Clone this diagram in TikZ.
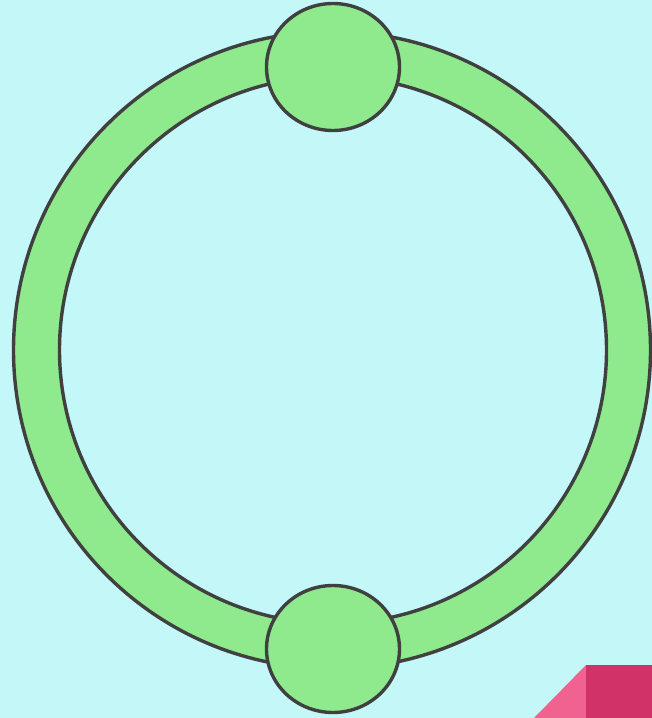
\documentclass[tikz,border=0pt]{standalone}
\usepackage{xcolor}
\usetikzlibrary{shapes.geometric}
\definecolor{sky}{HTML}{C4F8F8}
\definecolor{leaf}{HTML}{8EEA8C}
\definecolor{rim}{HTML}{404040}
\definecolor{rose}{HTML}{F06290}
\definecolor{berry}{HTML}{D13368}

\begin{document}
\begin{tikzpicture}[
  x=1bp, y=-1bp,
  ring/.style={draw=rim, fill=leaf, line width=3.4bp, even odd rule},
  knob/.style={ellipse, draw=rim, fill=leaf, line width=3.4bp, inner sep=0pt,
               minimum width=133bp, minimum height=127bp},
]
% Background, fixing the picture size.
\fill[sky] (0,0) rectangle (652,718);
\useasboundingbox (0,0) rectangle (652,718);

% Green ring between two circles.
\path[ring] (332,350) circle[radius=318.5] (333,350) circle[radius=273.5];

% Knobs sitting on the ring, top and bottom.
\node[knob] (top) at (333,67) {};
\node[knob] (bottom) at (333,649) {};

% Corner mark, bottom right.
\fill[rose] (586,665) -- (586,718) -- (534,718) -- cycle;
\fill[berry] (586,665) rectangle (652,718);
\end{tikzpicture}
\end{document}
